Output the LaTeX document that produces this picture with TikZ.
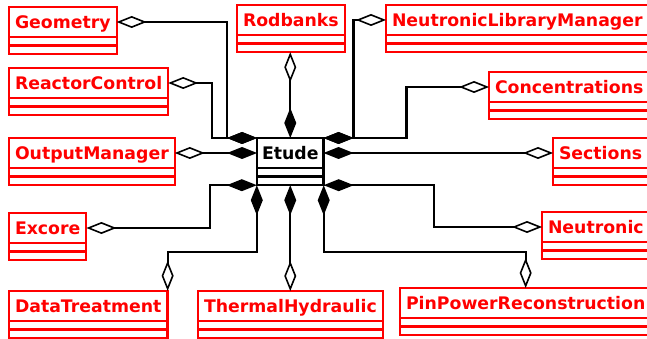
\documentclass[tikz,border=0pt]{standalone}
\usepackage{fontspec}
\setmainfont{DejaVu Sans}
\usetikzlibrary{arrows.meta,fit,calc}
\definecolor{clsred}{HTML}{ff0000}
\definecolor{ink}{HTML}{000000}
\tikzset{
  cls/.style={draw=clsred,text=clsred,line width=2.2pt,rectangle,anchor=north west,outer sep=0pt,
    minimum height=30pt,inner xsep=6pt,text height=13pt,text depth=0pt,
    font=\bfseries\fontsize{17.3}{20}\selectfont},
  cmp/.style={draw=clsred,line width=2.2pt},
  agg/.style={draw=ink,line width=2.2pt,
    arrows={Diamond[length=30pt,width=12pt]-Diamond[open,length=30pt,width=12pt,line width=1.6pt]}},
}
\begin{document}
\begin{tikzpicture}[x=1pt,y=-1pt]
\useasboundingbox (0,0) rectangle (647,339);
% class boxes
\foreach \n/\x/\y/\t in {geometry/9/7/Geometry,rodbanks/237/5/Rodbanks,nlm/386/5/NeutronicLibraryManager,
    reactor/9/68/ReactorControl,conc/489/72/Concentrations,output/9/138/OutputManager,sections/553/138/Sections,
    excore/9/213/Excore,neutronic/542/212/Neutronic,datatreat/9/291/DataTreatment,thermal/198/291/ThermalHydraulic,
    pinpower/400/288/PinPowerReconstruction} {
  \node[cls] (\n) at (\x,\y) {\t};
  \coordinate (\n-m) at ([yshift=-8.5pt]\n.south east);
  \coordinate (\n-b) at ([yshift=-17pt]\n.south east);
  \draw[cmp] (\n.south west) rectangle (\n-m);
  \draw[cmp] (\n.south west |- \n-m) rectangle (\n-b);
  \node[fit=(\n)(\n-b),inner sep=0pt] (\n-cls) {};
}
\node[cls,draw=ink,text=ink,inner xsep=5pt] (etude) at (257,138) {Etude};
\coordinate (etude-m) at ([yshift=-8.5pt]etude.south east);
\coordinate (etude-b) at ([yshift=-17pt]etude.south east);
\draw[cmp,draw=ink] (etude.south west) rectangle (etude-m);
\draw[cmp,draw=ink] (etude.south west |- etude-m) rectangle (etude-b);
\node[fit=(etude)(etude-b),inner sep=0pt] (etude-cls) {};
% aggregations
\draw[agg] (etude.north west) -- ++(-30,0) |- (geometry.east);
\draw[agg] (etude.north west) -- ++(-45,0) |- (reactor.east);
\draw[agg] (etude.west) -- (output.east);
\draw[agg] (etude.north) -- (etude.north |- rodbanks-cls.south);
\draw[agg] (etude.north east) -- ++(30,0) |- (nlm.west);
\draw[agg] (etude.north east) -- ++(83,0) |- (conc.west);
\draw[agg] (etude.east) -- (sections.west);
\draw[agg] (etude-cls.south west) -- ++(-47,0) |- (excore.east);
\draw[agg] (etude-cls.south west) -- ++(0,67) -| (datatreat-cls.north east);
\draw[agg] (etude-cls.south) -- (etude-cls.south |- thermal.north);
\draw[agg] (etude-cls.south east) -- ++(110,0) |- (neutronic.west);
\draw[agg] (etude-cls.south east) -- ++(0,67) -| (pinpower.north);
\end{tikzpicture}
\end{document}
